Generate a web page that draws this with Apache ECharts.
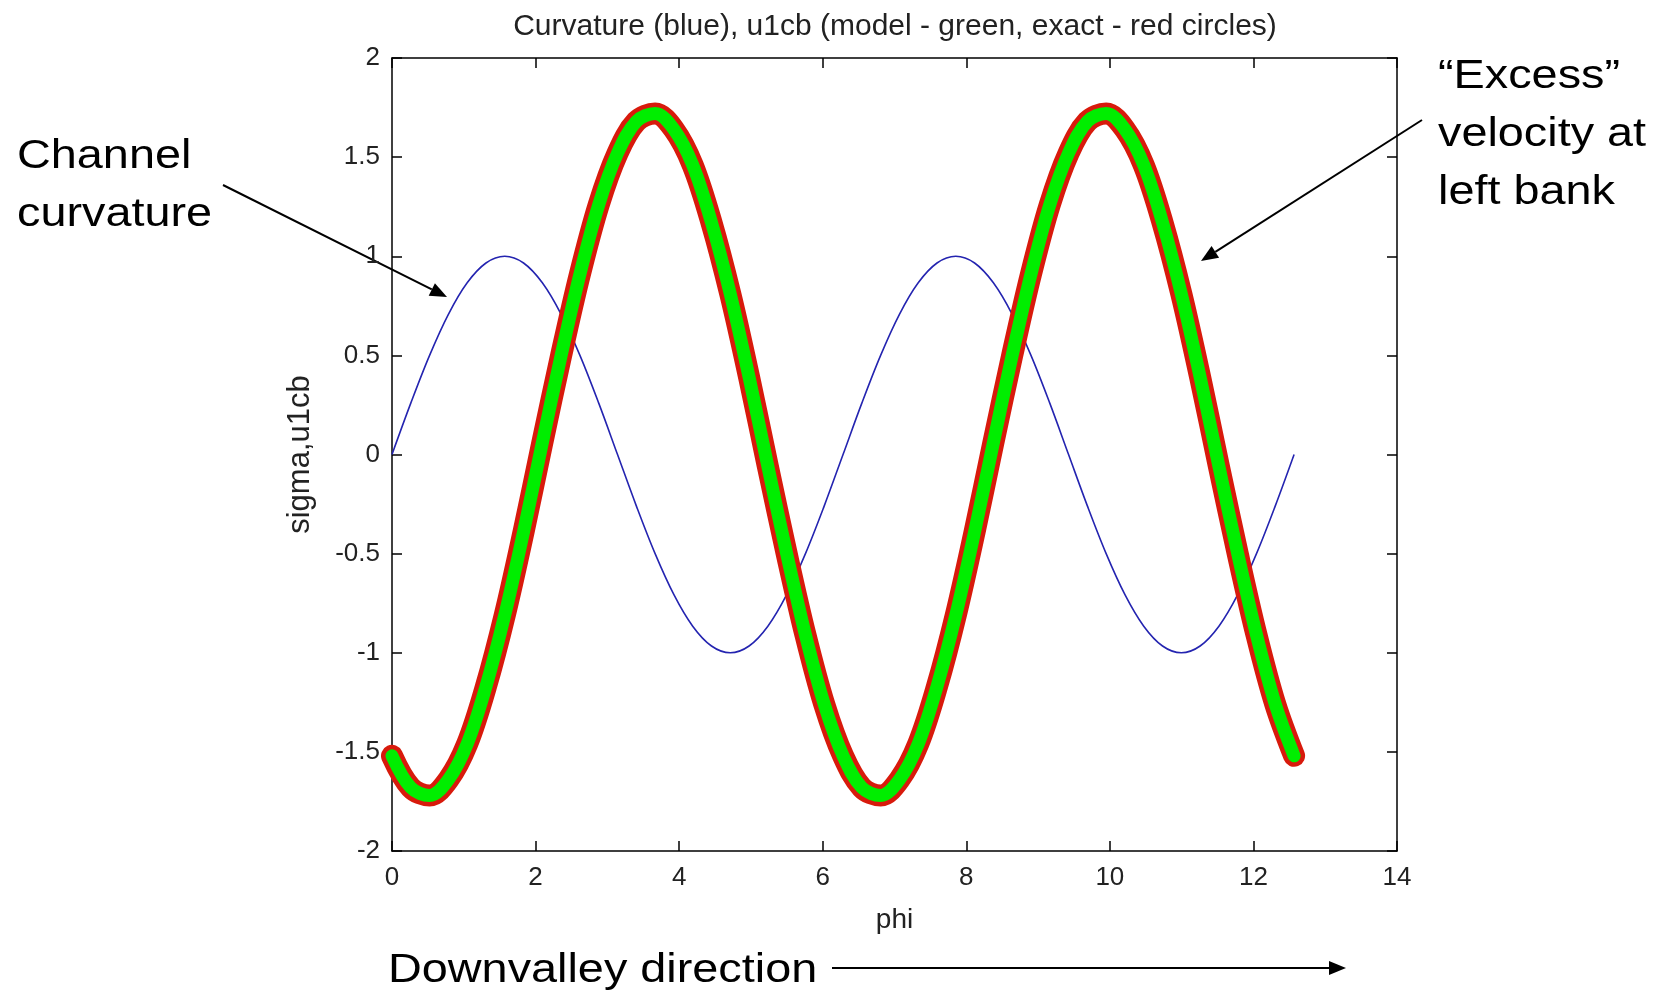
<!DOCTYPE html>
<html>
<head>
<meta charset="utf-8">
<script src="https://cdn.jsdelivr.net/npm/echarts@6/dist/echarts.min.js"></script>
<style>
html,body{margin:0;padding:0;background:#fff;}
#chart{width:1662px;height:995px;}
</style>
</head>
<body>
<div id="chart"></div>
<script>
// phi values (x)
const phi = [0, 0.2618, 0.5236, 0.7854, 1.0472, 1.3090, 1.5708, 1.8326, 2.0944, 2.3562, 2.6180, 2.8798,
  3.1416, 3.4034, 3.6652, 3.9270, 4.1888, 4.4506, 4.7124, 4.9742, 5.2360, 5.4978, 5.7596, 6.0214,
  6.2832, 6.5450, 6.8068, 7.0686, 7.3304, 7.5922, 7.8540, 8.1158, 8.3776, 8.6394, 8.9012, 9.1630,
  9.4248, 9.6866, 9.9484, 10.2102, 10.4720, 10.7338, 10.9956, 11.2574, 11.5192, 11.7810, 12.0428, 12.3046, 12.5664];
// channel curvature (blue)
const curvature = [0, 0.259, 0.5, 0.707, 0.866, 0.966, 1, 0.966, 0.866, 0.707, 0.5, 0.259,
  0, -0.259, -0.5, -0.707, -0.866, -0.966, -1, -0.966, -0.866, -0.707, -0.5, -0.259,
  0, 0.259, 0.5, 0.707, 0.866, 0.966, 1, 0.966, 0.866, 0.707, 0.5, 0.259,
  0, -0.259, -0.5, -0.707, -0.866, -0.966, -1, -0.966, -0.866, -0.707, -0.5, -0.259, 0];
// u1cb model (green)
const u1cbModel = [-1.52, -1.68, -1.72, -1.64, -1.46, -1.17, -0.81, -0.39, 0.06, 0.50, 0.91, 1.26,
  1.52, 1.68, 1.72, 1.64, 1.46, 1.17, 0.81, 0.39, -0.06, -0.50, -0.91, -1.26,
  -1.52, -1.68, -1.72, -1.64, -1.46, -1.17, -0.81, -0.39, 0.06, 0.50, 0.91, 1.26,
  1.52, 1.68, 1.72, 1.64, 1.46, 1.17, 0.81, 0.39, -0.06, -0.50, -0.91, -1.26, -1.52];
// u1cb exact (red circles)
const u1cbExact = [-1.52, -1.68, -1.72, -1.64, -1.46, -1.17, -0.81, -0.39, 0.06, 0.50, 0.91, 1.26,
  1.52, 1.68, 1.72, 1.64, 1.46, 1.17, 0.81, 0.39, -0.06, -0.50, -0.91, -1.26,
  -1.52, -1.68, -1.72, -1.64, -1.46, -1.17, -0.81, -0.39, 0.06, 0.50, 0.91, 1.26,
  1.52, 1.68, 1.72, 1.64, 1.46, 1.17, 0.81, 0.39, -0.06, -0.50, -0.91, -1.26, -1.52];

const titleText = 'Curvature (blue), u1cb (model - green, exact - red circles)';
const xName = 'phi';
const yName = 'sigma,u1cb';

const pair = (xs, ys) => xs.map((x, i) => [x, ys[i]]);

const chart = echarts.init(document.getElementById('chart'), null, {renderer: 'canvas'});
const tickFont = {fontFamily: 'Liberation Sans, Arial, sans-serif', fontSize: 26, color: '#222'};
const axisBase = {
  axisLine: {show: true, onZero: false, lineStyle: {color: '#000', width: 1.5}},
  axisTick: {show: true, inside: true, length: 10, lineStyle: {color: '#000', width: 1.5}},
  splitLine: {show: false}
};

function arrowGraphic(x1, y1, x2, y2) {
  const dx = x2 - x1, dy = y2 - y1, L = Math.hypot(dx, dy);
  const ux = dx / L, uy = dy / L, hl = 17, hw = 7;
  const bx = x2 - ux * hl, by = y2 - uy * hl;
  return [
    {type: 'line', shape: {x1: x1, y1: y1, x2: bx, y2: by}, style: {stroke: '#000', lineWidth: 2}},
    {type: 'polygon', shape: {points: [[x2, y2], [bx - uy * hw, by + ux * hw], [bx + uy * hw, by - ux * hw]]}, style: {fill: '#000'}}
  ];
}
function annText(x, y, t) {
  return {type: 'text', x: x, y: y, scaleX: 1.17,
    style: {text: t, font: '40px "Liberation Sans", Arial, sans-serif', fill: '#000', textAlign: 'left', textVerticalAlign: 'middle'}};
}

const option = {
  backgroundColor: '#fff',
  animation: false,
  title: {
    text: titleText, left: 890, top: 7, textAlign: 'center',
    textStyle: {fontFamily: 'Liberation Sans, Arial, sans-serif', fontSize: 30, fontWeight: 'normal', color: '#222'}
  },
  grid: {left: 392, right: 265, top: 58, bottom: 144, containLabel: false},
  xAxis: [
    Object.assign({}, axisBase, {type: 'value', position: 'bottom', min: 0, max: 14, interval: 2,
      name: xName, nameLocation: 'middle', nameGap: 55,
      nameTextStyle: {fontFamily: 'Liberation Sans, Arial, sans-serif', fontSize: 28, color: '#222'},
      axisLabel: Object.assign({margin: 14}, tickFont)}),
    Object.assign({}, axisBase, {type: 'value', position: 'top', min: 0, max: 14, interval: 2,
      axisLabel: {show: false}})
  ],
  yAxis: [
    Object.assign({}, axisBase, {type: 'value', position: 'left', min: -2, max: 2, interval: 0.5,
      name: yName, nameLocation: 'middle', nameGap: 76, nameRotate: 90,
      nameTextStyle: {fontFamily: 'Liberation Sans, Arial, sans-serif', fontSize: 31, color: '#222'},
      axisLabel: Object.assign({margin: 12}, tickFont)}),
    Object.assign({}, axisBase, {type: 'value', position: 'right', min: -2, max: 2, interval: 0.5,
      axisLabel: {show: false}})
  ],
  series: [
    {name: 'curvature', type: 'line', xAxisIndex: 0, yAxisIndex: 0, data: pair(phi, curvature),
      smooth: 0.35, showSymbol: false, lineStyle: {color: '#2424b0', width: 1.6}, z: 2},
    {name: 'exact', type: 'line', xAxisIndex: 0, yAxisIndex: 0, data: pair(phi, u1cbExact),
      smooth: 0.35, showSymbol: false, clip: false, lineStyle: {color: '#d81a0c', width: 22, cap: 'round', join: 'round'}, z: 3},
    {name: 'model', type: 'line', xAxisIndex: 0, yAxisIndex: 0, data: pair(phi, u1cbModel),
      smooth: 0.35, showSymbol: false, clip: false, lineStyle: {color: '#00ee00', width: 13, cap: 'round', join: 'round'}, z: 4}
  ],
  graphic: [
    annText(17, 157, 'Channel'),
    annText(17, 215, 'curvature'),
    annText(1438, 77, '\u201CExcess\u201D'),
    annText(1438, 135, 'velocity at'),
    annText(1438, 193, 'left bank'),
    annText(388, 971, 'Downvalley direction'),
    ...arrowGraphic(223, 185, 447, 297),
    ...arrowGraphic(1422, 120, 1201, 261),
    ...arrowGraphic(832, 968, 1346, 968)
  ]
};
chart.setOption(option);
</script>
</body>
</html>
